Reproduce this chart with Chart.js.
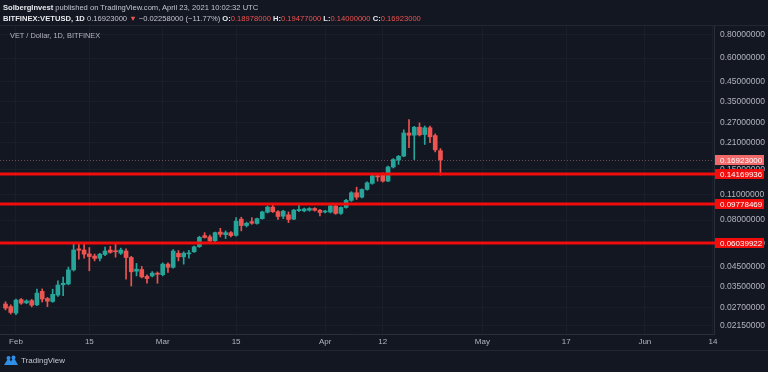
<!DOCTYPE html>
<html>
<head>
<meta charset="utf-8">
<script src="https://cdn.jsdelivr.net/npm/chart.js@4.4.1/dist/chart.umd.min.js"></script>
<style>
  html, body { margin: 0; padding: 0; background: #131722; }
  #wrap { position: relative; width: 768px; height: 372px; overflow: hidden; font-family: "Liberation Sans", Arial, sans-serif; }
  #wrap canvas { position: absolute; left: 0; top: 0; }
  .hdr { position: absolute; left: 3px; font-size: 7.6px; color: #c3c6ce; white-space: nowrap; }
  .hdr b { color: #e8e9ee; }
  .dn { color: #ef5350; }
  .pane-title { position: absolute; left: 10px; top: 31px; font-size: 7.4px; color: #b2b5be; }
  .sep { position: absolute; left: 0; width: 768px; height: 1px; background: #232733; }
  .footer { position: absolute; left: 3px; top: 355px; font-size: 8px; color: #c3c6ce; display: flex; align-items: center; gap: 2px; }
</style>
</head>
<body>
<div id="wrap">
  <canvas id="chart"></canvas>
  <div class="hdr" style="top:3px"><b>SolbergInvest</b> published on TradingView.com, April 23, 2021 10:02:32 UTC</div>
  <div class="hdr" id="ohlc" style="top:14px"></div>
  <div class="sep" style="top:25px"></div>
  <div class="pane-title">VET / Dollar, 1D, BITFINEX</div>
  <div class="sep" style="top:350px"></div>
  <div class="footer">
    <svg width="16" height="11" viewBox="0 0 16 11"><path d="M1 10 L5.5 3 L8 6.5 L10.5 2 L15 10 Z" fill="#2f8fe8"/><circle cx="5.5" cy="3" r="2" fill="#2f8fe8"/><circle cx="10.5" cy="2.5" r="2" fill="#2f8fe8"/></svg>
    <span>TradingView</span>
  </div>
</div>
<script>
// daily candles, first one is Jan 30 2021 (day index relative to Feb 1)
const firstDay = -2;
const opens  = [0.0282,0.0273,0.0252,0.0298,0.0286,0.0294,0.0279,0.0330,0.0302,0.0291,
                0.0315,0.0358,0.0362,0.0431,0.0560,0.0552,0.0526,0.0512,0.0498,0.0522,
                0.0552,0.0545,0.0530,0.0545,0.0503,0.0424,0.0433,0.0398,0.0400,0.0414,
                0.0406,0.0463,0.0445,0.0530,0.0507,0.0526,0.0540,0.0576,0.0660,0.0650,
                0.0620,0.0690,0.0668,0.0685,0.0662,0.0810,0.0748,0.0785,0.0768,0.0815,
                0.0883,0.0941,0.0889,0.0840,0.0855,0.0810,0.0900,0.0898,0.0905,0.0925,
                0.0905,0.0885,0.0885,0.0955,0.0870,0.0937,0.1023,0.1125,0.1065,0.1172,
                0.1265,0.1390,0.1405,0.1300,0.1550,0.1690,0.1775,0.2365,0.2300,0.2540,
                0.2320,0.2525,0.2290,0.18978];
const highs  = [0.0290,0.0279,0.0300,0.0302,0.0297,0.0299,0.0339,0.0340,0.0306,0.0339,
                0.0376,0.0394,0.0446,0.0598,0.0605,0.0593,0.0569,0.0525,0.0530,0.0573,
                0.0578,0.0598,0.0565,0.0560,0.0510,0.0467,0.0450,0.0405,0.0422,0.0420,
                0.0470,0.0470,0.0555,0.0548,0.0540,0.0550,0.0580,0.0655,0.0685,0.0665,
                0.0690,0.0723,0.0700,0.0695,0.0825,0.0830,0.0780,0.0825,0.0820,0.0895,
                0.0955,0.0973,0.0900,0.0905,0.0886,0.0915,0.0973,0.0930,0.0935,0.0935,
                0.0915,0.0905,0.0965,0.0975,0.0945,0.1035,0.1140,0.1205,0.1180,0.1290,
                0.1430,0.1430,0.1440,0.1565,0.1720,0.1790,0.2460,0.2790,0.2570,0.2680,
                0.2580,0.2580,0.2340,0.19477];
const lows   = [0.0262,0.0249,0.0247,0.0281,0.0283,0.0272,0.0276,0.0289,0.0273,0.0288,
                0.0310,0.0313,0.0358,0.0425,0.0492,0.0498,0.0426,0.0482,0.0482,0.0515,
                0.0530,0.0505,0.0522,0.0384,0.0353,0.0400,0.0390,0.0365,0.0395,0.0365,
                0.0400,0.0418,0.0440,0.0482,0.0463,0.0498,0.0535,0.0570,0.0640,0.0598,
                0.0605,0.0650,0.0636,0.0650,0.0655,0.0700,0.0735,0.0760,0.0760,0.0810,
                0.0875,0.0880,0.0808,0.0815,0.0776,0.0805,0.0890,0.0888,0.0895,0.0895,
                0.0842,0.0875,0.0875,0.0860,0.0860,0.0930,0.1010,0.1035,0.1055,0.1160,
                0.1250,0.1300,0.1285,0.1290,0.1530,0.1600,0.1760,0.1970,0.1700,0.2280,
                0.2050,0.2100,0.1870,0.14000];
const closes = [0.0268,0.0254,0.0296,0.0285,0.0293,0.0278,0.0323,0.0300,0.0292,0.0318,
                0.0357,0.0365,0.0431,0.0552,0.0550,0.0524,0.0509,0.0497,0.0524,0.0545,
                0.0536,0.0540,0.0552,0.0503,0.0421,0.0435,0.0395,0.0387,0.0414,0.0408,
                0.0463,0.0445,0.0545,0.0507,0.0530,0.0529,0.0574,0.0646,0.0645,0.0618,
                0.0685,0.0671,0.0685,0.0660,0.0790,0.0748,0.0770,0.0770,0.0815,0.0886,
                0.0941,0.0889,0.0837,0.0895,0.0808,0.0906,0.0914,0.0920,0.0925,0.0905,
                0.0880,0.0896,0.0955,0.0870,0.0937,0.1023,0.1125,0.1065,0.1172,0.1273,
                0.1390,0.1370,0.1300,0.1550,0.1700,0.1770,0.2365,0.2300,0.2540,0.2310,
                0.2525,0.2255,0.19181,0.16923];

const tickDays   = [0, 14, 28, 42, 59, 70, 89, 105, 120, 133];
const tickLabels = ['Feb', '15', 'Mar', '15', 'Apr', '12', 'May', '17', 'Jun', '14'];
const priceTicks = [0.0215, 0.027, 0.035, 0.045, 0.06, 0.08, 0.11, 0.15, 0.21, 0.27, 0.35, 0.45, 0.6, 0.8];
const levels = [0.14169936, 0.09778469, 0.06039922];

const upColor = '#26a69a';
const downColor = '#ef5350';
const levelColor = '#f20d0d';

// header line built from the last candle
const n = closes.length;
const last = closes[n - 1];
const chg = last - closes[n - 2];
const pct = chg / closes[n - 2] * 100;
const f8 = v => v.toFixed(8);
document.getElementById('ohlc').innerHTML =
    `<b>BITFINEX:VETUSD, 1D</b> ${f8(last)} <span class="dn">▼</span> −${f8(Math.abs(chg))} (−${Math.abs(pct).toFixed(2)}%) ` +
    `<b>O:</b><span class="dn">${f8(opens[n - 1])}</span> <b>H:</b><span class="dn">${f8(highs[n - 1])}</span> ` +
    `<b>L:</b><span class="dn">${f8(lows[n - 1])}</span> <b>C:</b><span class="dn">${f8(last)}</span>`;

const candleColors = closes.map((c, i) => c >= opens[i] ? upColor : downColor);

const levelPlugin = {
    id: 'levels',
    afterDatasetsDraw(chart) {
        const { ctx, chartArea, scales: { y } } = chart;
        ctx.save();
        // last price dotted line
        const py = Math.round(y.getPixelForValue(last)) + 0.5;
        ctx.strokeStyle = 'rgba(190,120,125,0.55)';
        ctx.lineWidth = 1;
        ctx.setLineDash([1, 2]);
        ctx.beginPath();
        ctx.moveTo(chartArea.left, py);
        ctx.lineTo(chartArea.right, py);
        ctx.stroke();
        ctx.setLineDash([]);
        // support / resistance lines
        ctx.fillStyle = levelColor;
        levels.forEach(v => {
            const ly = Math.round(y.getPixelForValue(v));
            ctx.fillRect(chartArea.left, ly - 1.5, chartArea.right - chartArea.left + 2, 3);
        });
        ctx.restore();
    },
    afterDraw(chart) {
        const { ctx, chartArea, scales: { y } } = chart;
        const tag = (v, bg) => {
            const ty = Math.round(y.getPixelForValue(v));
            ctx.fillStyle = bg;
            ctx.fillRect(chartArea.right + 1, ty - 5, 49, 10);
            ctx.fillStyle = '#ffffff';
            ctx.font = '8px "Liberation Sans", Arial, sans-serif';
            ctx.textAlign = 'left';
            ctx.textBaseline = 'middle';
            ctx.fillText(f8(v), chartArea.right + 6, ty + 0.5);
        };
        ctx.save();
        tag(last, '#f06a6a');
        levels.forEach(v => tag(v, levelColor));
        ctx.restore();
    }
};

new Chart(document.getElementById('chart'), {
    type: 'bar',
    data: {
        datasets: [
            {
                label: 'body',
                data: opens.map((o, i) => ({ x: firstDay + i, y: [o, closes[i]] })),
                backgroundColor: candleColors,
                barThickness: 4,
                minBarLength: 1,
                grouped: false,
                borderWidth: 0
            },
            {
                label: 'wick',
                data: lows.map((l, i) => ({ x: firstDay + i, y: [l, highs[i]] })),
                backgroundColor: candleColors,
                barThickness: 1,
                grouped: false,
                borderWidth: 0
            }
        ]
    },
    options: {
        responsive: true,
        maintainAspectRatio: false,
        animation: false,
        layout: { padding: { top: 26, bottom: 22, left: 0, right: 0 } },
        plugins: { legend: { display: false }, tooltip: { enabled: false } },
        scales: {
            x: {
                type: 'linear',
                min: -3.05,
                max: 133.2,
                offset: false,
                afterBuildTicks: s => { s.ticks = tickDays.map(v => ({ value: v })); },
                afterFit: s => { s.height = 16; },
                ticks: {
                    autoSkip: false,
                    maxRotation: 0,
                    padding: 3,
                    color: '#b2b5be',
                    font: { size: 8, family: '"Liberation Sans", Arial, sans-serif' },
                    callback: v => tickLabels[tickDays.indexOf(v)]
                },
                grid: { color: '#1a1e2a', drawTicks: false, offset: false },
                border: { color: '#2a2e39' }
            },
            y: {
                type: 'logarithmic',
                position: 'right',
                min: 0.01942,
                max: 0.8947,
                afterBuildTicks: s => { s.ticks = priceTicks.map(v => ({ value: v })); },
                afterFit: s => { s.width = 54; },
                ticks: {
                    autoSkip: false,
                    padding: 6,
                    color: '#b2b5be',
                    font: { size: 8.5, family: '"Liberation Sans", Arial, sans-serif' },
                    callback: v => Number(v).toFixed(8)
                },
                grid: { color: '#1a1e2a', drawTicks: false },
                border: { color: '#2a2e39' }
            }
        }
    },
    plugins: [levelPlugin]
});
</script>
</body>
</html>
